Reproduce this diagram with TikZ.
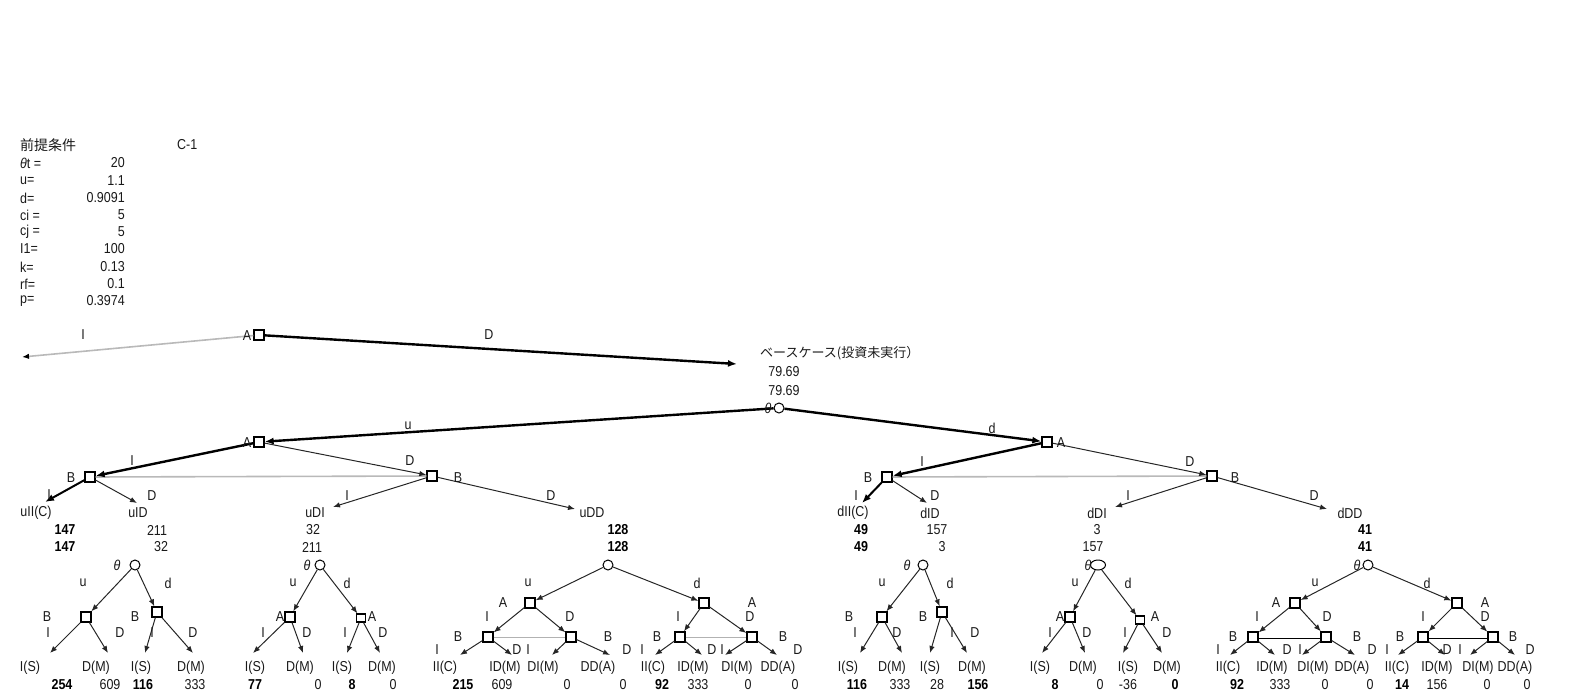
\documentclass[tikz,border=0pt]{standalone}
\usepackage{fontspec}
\setmainfont{Liberation Sans}
\newfontfamily\cjk{Noto Sans CJK JP}
\usetikzlibrary{arrows.meta,shapes.geometric}
\newcommand\vs[1]{\scalebox{1}[1.15]{#1}}
\newcommand\thta{\textit{θ}}
\begin{document}
\begin{tikzpicture}[x=1pt,y=-1pt,
  tx/.style={font=\fontsize{12.5}{13}\selectfont, text=black!90, inner sep=0pt},
  bx/.style={font=\fontsize{12.5}{13}\selectfont\bfseries, text=black, inner sep=0pt},
  sq/.style={draw=black, fill=white, line width=1.3pt, minimum size=10pt, inner sep=0pt},
  sqs/.style={sq, minimum width=9pt, minimum height=8pt},
  cir/.style={draw=black, fill=white, circle, line width=1pt, minimum size=10pt, inner sep=0pt},
  arr/.style={draw=black!85, line width=1pt, -{Latex[length=7pt,width=5.5pt]}},
  tk/.style={draw=black, line width=2.4pt, -{Latex[length=9pt,width=7pt]}},
  info/.style={draw=gray!55, line width=1.6pt},
  infos/.style={draw=gray!60, line width=1pt},
]
\useasboundingbox (0,0) rectangle (1572,691);

% ---------- header ----------
\node[tx, anchor=west, font=\cjk\fontsize{14}{15}\selectfont] (hd) at (20,145) {前提条件};
\node[tx, anchor=west] (c1) at (177,145) {\vs{C-1}};
\foreach \y/\l/\v [count=\i] in {163/\thta t =/20, 181/u=/1.1, 198/d=/0.9091, 215/ci =/5, 232/cj =/5, 249/I1=/100, 267/k=/0.13, 284/rf=/0.1, 301/p=/0.3974}{
  \node[tx, anchor=west] (pl\i) at (20,\y) {\vs{\l}};
  \node[tx, anchor=east] (pv\i) at (125,\y) {\vs{\v}};
}

% ---------- top tree ----------
\node[sq] (A0) at (259,335) {};
\coordinate (tI) at (22,357);
\coordinate (tD) at (737,364);
\draw[info, -{Latex[length=7pt,width=5.5pt,color=black]}] (A0) -- (tI);
\draw[tk] (A0) -- (tD);
\node[tx, anchor=west, font=\cjk\fontsize{13}{14}\selectfont] (base) at (760,353) {ベースケース(投資未実行）};
\node[tx] (bv1) at (784,372) {\vs{79.69}};
\node[tx] (bv2) at (784,391) {\vs{79.69}};

\node[cir] (T) at (779,408) {};
\node[sq] (Au) at (259,442) {};
\node[sq] (Ad) at (1047,442) {};
\draw[tk] (T) -- (Au);
\draw[tk] (T) -- (Ad);

\node[sq] (B1) at (90,477) {};
\node[sq] (B2) at (432,476) {};
\node[sq] (B3) at (887,477) {};
\node[sq] (B4) at (1212,476) {};
\draw[info] (B1) -- (B2);
\draw[info] (B3) -- (B4);
\draw[tk] (Au) -- (B1);
\draw[arr] (Au) -- (B2);
\draw[tk] (Ad) -- (B3);
\draw[arr] (Ad) -- (B4);

\coordinate (m1) at (45,502);
\coordinate (m2) at (137,503);
\coordinate (m3) at (333,507);
\coordinate (m4) at (575,509);
\coordinate (m5) at (862,503);
\coordinate (m6) at (927,503);
\coordinate (m7) at (1115,507);
\coordinate (m8) at (1327,509);
\draw[tk, line width=2pt] (B1) -- (m1);
\draw[arr] (B1) -- (m2);
\draw[arr] (B2) -- (m3);
\draw[arr] (B2) -- (m4);
\draw[tk, line width=2pt] (B3) -- (m5);
\draw[arr] (B3) -- (m6);
\draw[arr] (B4) -- (m7);
\draw[arr] (B4) -- (m8);

% ---------- bottom subtrees: nodes ----------
% S1
\node[cir] (C1) at (135,565) {};
\node[sq] (S1L) at (86,617) {};
\node[sq] (S1R) at (157,612) {};
% S2
\node[cir] (C2) at (320,565) {};
\node[sq] (S2L) at (290,617) {};
\node[sqs] (S2R) at (361,618) {};
% S3
\node[cir] (C3) at (608,565) {};
\node[sq] (S3A) at (530,603) {};
\node[sq] (S3B) at (704,603) {};
\node[sq] (S3a) at (488,637) {};
\node[sq] (S3b) at (571,637) {};
\node[sq] (S3c) at (680,637) {};
\node[sq] (S3d) at (752,637) {};
% S4
\node[cir] (C4) at (923,565) {};
\node[sq] (S4L) at (882,617) {};
\node[sq] (S4R) at (942,612) {};
% S5
\node[draw=black, fill=white, ellipse, line width=1pt, minimum width=15pt, minimum height=10pt, inner sep=0pt] (C5) at (1098,565) {};
\node[sq] (S5L) at (1070,617) {};
\node[sqs] (S5R) at (1140,620) {};
% S6
\node[cir] (C6) at (1368,565) {};
\node[sq] (S6A) at (1295,603) {};
\node[sq] (S6B) at (1457,603) {};
\node[sq] (S6a) at (1253,637) {};
\node[sq] (S6b) at (1326,637) {};
\node[sq] (S6c) at (1423,637) {};
\node[sq] (S6d) at (1493,637) {};

% ---------- bottom subtrees: connectors ----------
\draw[infos] (S3a) -- (S3b);
\draw[infos] (S3c) -- (S3d);
\draw[double=white, double distance=1.4pt, line width=0.8pt] (S6a) -- (S6b);
\draw[double=white, double distance=1.4pt, line width=0.8pt] (S6c) -- (S6d);
\foreach \a/\b in {C1/S1L, C1/S1R, C2/S2L, C2/S2R, C3/S3A, C3/S3B, S3A/S3a, S3A/S3b, S3B/S3c, S3B/S3d,
  C4/S4L, C4/S4R, C5/S5L, C5/S5R, C6/S6A, C6/S6B, S6A/S6a, S6A/S6b, S6B/S6c, S6B/S6d}{
  \draw[arr] (\a) -- (\b);
}
\foreach \p/\x/\y [count=\i] in {S1L/50/653, S1L/108/653, S1R/145/653, S1R/193/653,
  S2L/253/653, S2L/303/653, S2R/347/653, S2R/380/653,
  S3a/460/655, S3a/512/655, S3b/552/655, S3b/610/655, S3c/655/655, S3c/702/655, S3d/725/655, S3d/777/655,
  S4L/860/653, S4L/902/653, S4R/930/653, S4R/967/653,
  S5L/1042/653, S5L/1085/653, S5R/1123/653, S5R/1162/653,
  S6a/1230/655, S6a/1275/655, S6b/1302/655, S6b/1355/655, S6c/1398/655, S6c/1445/655, S6d/1470/655, S6d/1515/655}{
  \coordinate (lf\i) at (\x,\y);
  \draw[arr] (\p) -- (lf\i);
}

% ---------- labels ----------
\foreach \x/\y/\s [count=\i] in {
  83/335/I, 489/335/D, 247/336/A, 408/426/u, 992/428/d, 247/443/A, 1061/443/A, 768/408/\thta,
  132/461/I, 71/478/B, 410/461/D, 458/478/B, 49/495/I, 152/496/D, 347/496/I, 551/496/D,
  36/513/uII(C), 138/513/uID, 315/513/uDI, 592/513/uDD, 157/530/211, 161/547/32, 313/530/32, 312/547/211,
  922/462/I, 868/478/B, 1190/462/D, 1235/478/B, 856/496/I, 935/496/D, 1128/496/I, 1314/496/D,
  853/513/dII(C), 930/513/dID, 1097/513/dDI, 1350/513/dDD, 937/530/157, 942/547/3, 1097/530/3, 1093/547/157,
  117/565/\thta, 83/583/u, 168/583/d, 47/617/B, 135/617/B, 48/633/I, 120/633/D, 152/633/I, 193/633/D,
  30/668/I(S), 96/668/D(M), 141/668/I(S), 191/668/D(M), 110/685/609, 195/685/333,
  307/565/\thta, 293/583/u, 347/583/d, 280/617/A, 372/617/A, 263/633/I, 307/633/D, 345/633/I, 383/633/D,
  255/668/I(S), 300/668/D(M), 342/668/I(S), 382/668/D(M), 318/685/0, 393/685/0,
  528/583/u, 697/583/d, 503/603/A, 752/603/A, 487/617/I, 570/617/D, 678/617/I, 750/617/D,
  458/637/B, 608/637/B, 657/637/B, 783/637/B,
  437/650/I, 517/650/D, 528/650/I, 627/650/D, 642/650/I, 712/650/D, 722/650/I, 798/650/D,
  445/668/II(C), 505/668/ID(M), 543/668/DI(M), 598/668/DD(A), 653/668/II(C), 693/668/ID(M), 737/668/DI(M), 778/668/DD(A),
  502/685/609, 698/685/333, 567/685/0, 623/685/0, 748/685/0, 795/685/0,
  907/565/\thta, 882/583/u, 950/583/d, 849/617/B, 923/617/B, 855/633/I, 897/633/D, 952/633/I, 975/633/D,
  848/668/I(S), 892/668/D(M), 930/668/I(S), 972/668/D(M), 900/685/333, 937/685/28,
  1088/565/\thta, 1075/583/u, 1128/583/d, 1060/617/A, 1155/617/A, 1050/633/I, 1087/633/D, 1125/633/I, 1167/633/D,
  1040/668/I(S), 1083/668/D(M), 1128/668/I(S), 1167/668/D(M), 1100/685/0, 1128/685/-36,
  1357/565/\thta, 1315/583/u, 1427/583/d, 1276/603/A, 1485/603/A, 1257/617/I, 1327/617/D, 1423/617/I, 1485/617/D,
  1233/637/B, 1357/637/B, 1400/637/B, 1513/637/B,
  1218/650/I, 1287/650/D, 1300/650/I, 1372/650/D, 1387/650/I, 1447/650/D, 1460/650/I, 1530/650/D,
  1228/668/II(C), 1272/668/ID(M), 1313/668/DI(M), 1352/668/DD(A), 1397/668/II(C), 1437/668/ID(M), 1478/668/DI(M), 1515/668/DD(A),
  1280/685/333, 1437/685/156, 1325/685/0, 1370/685/0, 1487/685/0, 1527/685/0}{
  \node[tx] (lb\i) at (\x,\y) {\vs{\s}};
}
\foreach \x/\y/\s [count=\i] in {
  65/530/147, 65/547/147, 618/530/128, 618/547/128, 861/530/49, 861/547/49, 1365/530/41, 1365/547/41,
  62/685/254, 143/685/116, 255/685/77, 352/685/8, 463/685/215, 662/685/92,
  857/685/116, 978/685/156, 1055/685/8, 1175/685/0, 1237/685/92, 1402/685/14}{
  \node[bx] (bv\i) at (\x,\y) {\vs{\s}};
}
\end{tikzpicture}
\end{document}
